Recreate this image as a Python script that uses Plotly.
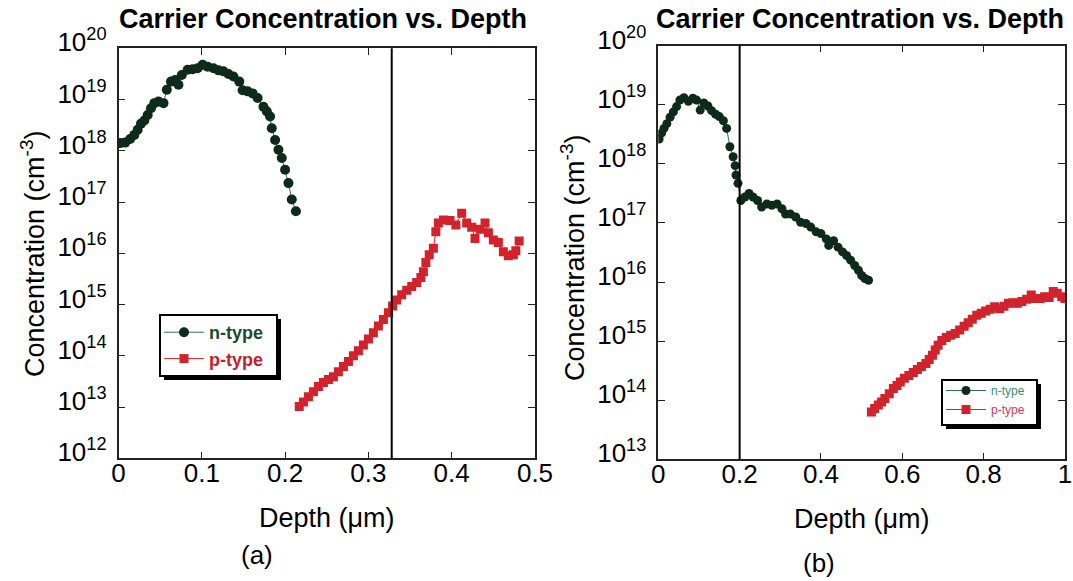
import plotly.graph_objects as go

# ---------------- data ----------------
# (a) n-type
a_n_depth = [0.002, 0.008, 0.014, 0.019, 0.023, 0.027, 0.031, 0.035, 0.039, 0.043, 0.048, 0.054,
             0.058, 0.063, 0.068, 0.072, 0.076, 0.083, 0.089, 0.095, 0.101, 0.107, 0.114, 0.120,
             0.126, 0.132, 0.138, 0.145, 0.149, 0.155, 0.161, 0.167, 0.174, 0.178, 0.182, 0.184,
             0.188, 0.192, 0.196, 0.200, 0.204, 0.208, 0.213]
a_n_log = [18.15, 18.16, 18.23, 18.31, 18.41, 18.53, 18.59, 18.70, 18.83, 18.93, 18.96, 18.93,
           19.19, 19.35, 19.38, 19.29, 19.48, 19.58, 19.59, 19.61, 19.68, 19.64, 19.61, 19.57,
           19.55, 19.50, 19.45, 19.35, 19.18, 19.16, 19.12, 19.03, 18.86, 18.77, 18.67, 18.44,
           18.21, 18.02, 17.86, 17.63, 17.37, 17.05, 16.82]
# (a) p-type
a_p_depth = [0.217, 0.222, 0.228, 0.234, 0.240, 0.246, 0.252, 0.258, 0.264, 0.270, 0.276, 0.282,
             0.288, 0.294, 0.300, 0.306, 0.312, 0.318, 0.324, 0.329, 0.334, 0.340, 0.346, 0.352,
             0.358, 0.363, 0.366, 0.369, 0.373, 0.378, 0.381, 0.384, 0.390, 0.398, 0.405, 0.412,
             0.418, 0.424, 0.428, 0.434, 0.440, 0.444, 0.450, 0.456, 0.462, 0.468, 0.474, 0.477,
             0.481]
a_p_log = [13.01, 13.10, 13.20, 13.30, 13.40, 13.48, 13.54, 13.59, 13.69, 13.79, 13.89, 14.00,
           14.10, 14.21, 14.33, 14.45, 14.58, 14.71, 14.84, 14.97, 15.09, 15.19, 15.28, 15.35,
           15.43, 15.53, 15.64, 15.82, 15.97, 16.10, 16.42, 16.59, 16.65, 16.64, 16.55, 16.78,
           16.59, 16.51, 16.29, 16.47, 16.59, 16.40, 16.26, 16.21, 16.03, 15.95, 15.97, 16.05,
           16.24]
# (b) n-type
b_n_depth = [0.002, 0.008, 0.014, 0.021, 0.029, 0.037, 0.045, 0.053, 0.063, 0.074, 0.085, 0.094,
             0.103, 0.112, 0.122, 0.131, 0.141, 0.150, 0.160, 0.168, 0.176, 0.184, 0.189, 0.191,
             0.196, 0.203, 0.213, 0.223, 0.233, 0.244, 0.254, 0.267, 0.279, 0.292, 0.304, 0.313,
             0.325, 0.338, 0.350, 0.363, 0.375, 0.388, 0.400, 0.413, 0.419, 0.431, 0.442, 0.453,
             0.463, 0.473, 0.483, 0.492, 0.500, 0.508, 0.517]
b_n_log = [18.42, 18.52, 18.60, 18.68, 18.79, 18.88, 18.97, 19.08, 19.12, 19.06, 19.11, 19.08,
           18.91, 19.03, 18.98, 18.90, 18.84, 18.80, 18.73, 18.60, 18.29, 18.12, 17.97, 17.81,
           17.67, 17.38, 17.44, 17.50, 17.44, 17.38, 17.27, 17.32, 17.30, 17.32, 17.24, 17.15,
           17.15, 17.10, 17.01, 16.99, 16.93, 16.85, 16.82, 16.73, 16.62, 16.70, 16.59, 16.51,
           16.45, 16.37, 16.28, 16.20, 16.11, 16.06, 16.03]
# (b) p-type
b_p_depth = [0.524, 0.532, 0.541, 0.549, 0.557, 0.568, 0.578, 0.587, 0.595, 0.605, 0.616, 0.627,
             0.637, 0.647, 0.658, 0.666, 0.674, 0.681, 0.688, 0.697, 0.708, 0.719, 0.730, 0.741,
             0.752, 0.762, 0.772, 0.783, 0.794, 0.805, 0.816, 0.827, 0.839, 0.850, 0.861, 0.872,
             0.883, 0.894, 0.906, 0.917, 0.927, 0.939, 0.950, 0.961, 0.971, 0.981, 0.992, 1.000]
b_p_log = [13.80, 13.86, 13.92, 13.97, 14.03, 14.11, 14.20, 14.25, 14.31, 14.37, 14.42, 14.47,
           14.52, 14.57, 14.62, 14.69, 14.76, 14.85, 14.93, 15.01, 15.06, 15.10, 15.13, 15.19,
           15.25, 15.31, 15.37, 15.44, 15.47, 15.51, 15.54, 15.58, 15.55, 15.59, 15.64, 15.65,
           15.64, 15.67, 15.71, 15.78, 15.72, 15.72, 15.75, 15.74, 15.84, 15.81, 15.75, 15.72]

a_n_conc = [10.0 ** v for v in a_n_log]
a_p_conc = [10.0 ** v for v in a_p_log]
b_n_conc = [10.0 ** v for v in b_n_log]
b_p_conc = [10.0 ** v for v in b_p_log]

junction_a = 0.328
junction_b = 0.2

a_xticks = [0, 0.1, 0.2, 0.3, 0.4, 0.5]
a_xticktext = ["0", "0.1", "0.2", "0.3", "0.4", "0.5"]
b_xticks = [0, 0.2, 0.4, 0.6, 0.8, 1.0]
b_xticktext = ["0", "0.2", "0.4", "0.6", "0.8", "1"]
a_exponents = list(range(12, 21))
b_exponents = list(range(13, 21))

title_text = "Carrier Concentration vs. Depth"
x_title = "Depth (μm)"
y_title = "Concentration (cm<sup>-3</sup>)"

# ---------------- styling ----------------
W, H = 1073, 581
FONT = "Liberation Sans, Arial, Helvetica, sans-serif"
N_MARK = "#0e2a1b"
N_LINE = "#2d6e6a"
P_MARK = "#d2232c"
P_LINE = "#d2232c"


def px(x):
    return x / W


def py(y):
    return 1 - y / H


fig = go.Figure()

fig.add_trace(go.Scatter(x=a_n_depth, y=a_n_conc, mode="lines+markers",
                         name="<b><span style='color:#1b4a30'>n-type</span></b>",
                         marker=dict(symbol="circle", size=10, color=N_MARK),
                         line=dict(color=N_LINE, width=1),
                         xaxis="x", yaxis="y", legend="legend"))
fig.add_trace(go.Scatter(x=a_p_depth, y=a_p_conc, mode="lines+markers",
                         name="<b><span style='color:#c81e2a'>p-type</span></b>",
                         marker=dict(symbol="square", size=9, color=P_MARK),
                         line=dict(color=P_LINE, width=1),
                         xaxis="x", yaxis="y", legend="legend"))
fig.add_trace(go.Scatter(x=b_n_depth, y=b_n_conc, mode="lines+markers",
                         name="<span style='color:#3d8c6c'>n-type</span>",
                         marker=dict(symbol="circle", size=9, color=N_MARK),
                         line=dict(color=N_LINE, width=1),
                         xaxis="x2", yaxis="y2", legend="legend2"))
fig.add_trace(go.Scatter(x=b_p_depth, y=b_p_conc, mode="lines+markers",
                         name="<span style='color:#d8355a'>p-type</span>",
                         marker=dict(symbol="square", size=9, color=P_MARK),
                         line=dict(color=P_LINE, width=1),
                         xaxis="x2", yaxis="y2", legend="legend2"))

axis_common = dict(showgrid=False, zeroline=False, showline=True, linecolor="#222222",
                   linewidth=1.5, mirror="ticks", ticks="inside", ticklen=7, tickwidth=1.2,
                   tickcolor="#222222", automargin=False,
                   tickfont=dict(family=FONT, size=26, color="black"))

ytext_a = ["10<sup>%d</sup>" % e for e in a_exponents]
ytext_b = ["10<sup>%d</sup>" % e for e in b_exponents]

fig.update_layout(
    template="none",
    width=W, height=H,
    margin=dict(l=0, r=0, t=0, b=0, pad=0, autoexpand=False),
    paper_bgcolor="white", plot_bgcolor="white",
    font=dict(family=FONT, color="black", size=18),
    xaxis=dict(domain=[px(118.5), px(535)], range=[0, 0.5], anchor="y",
               tickvals=a_xticks, ticktext=a_xticktext, ticklabelstandoff=-9, **axis_common),
    yaxis=dict(domain=[py(458.3), py(48.3)], type="log", range=[12, 20], anchor="x",
               tickvals=[10.0 ** e for e in a_exponents], ticktext=ytext_a,
               ticklabelstandoff=5, ticklabelshift=-6, **axis_common),
    xaxis2=dict(domain=[px(658.3), px(1065)], range=[0, 1], anchor="y2",
                tickvals=b_xticks, ticktext=b_xticktext, ticklabelstandoff=-9, **axis_common),
    yaxis2=dict(domain=[py(459.3), py(45.7)], type="log", range=[13, 20], anchor="x2",
                tickvals=[10.0 ** e for e in b_exponents], ticktext=ytext_b,
                ticklabelstandoff=5, ticklabelshift=-6, **axis_common),
    legend=dict(x=px(159), y=py(314), xanchor="left", yanchor="top",
                bgcolor="rgba(0,0,0,0)", borderwidth=0,
                font=dict(family=FONT, size=18), itemwidth=40, tracegroupgap=0),
    legend2=dict(x=px(941), y=py(376), xanchor="left", yanchor="top",
                 bgcolor="rgba(0,0,0,0)", borderwidth=0,
                 font=dict(family=FONT, size=12), itemwidth=40, tracegroupgap=0),
    showlegend=True,
)

# junction lines
fig.add_shape(type="line", xref="x", yref="y domain", x0=junction_a, x1=junction_a, y0=0, y1=1,
              line=dict(color="black", width=2))
fig.add_shape(type="line", xref="x2", yref="y2 domain", x0=junction_b, x1=junction_b, y0=0, y1=1,
              line=dict(color="black", width=2))

# legend frames with drop shadows
for (bx0, bx1, by0, by1, sh) in [(160, 277, 315, 376, 4), (942, 1037, 380, 425, 4)]:
    fig.add_shape(type="rect", xref="paper", yref="paper", layer="above",
                  x0=px(bx0 + sh), x1=px(bx1 + sh), y0=py(by1 + sh), y1=py(by0 + sh),
                  line=dict(width=0), fillcolor="black")
    fig.add_shape(type="rect", xref="paper", yref="paper", layer="above",
                  x0=px(bx0), x1=px(bx1), y0=py(by1), y1=py(by0),
                  line=dict(width=2, color="black"), fillcolor="white")

annots = [
    dict(text="<b>%s</b>" % title_text, x=px(323), y=py(19), font=dict(size=27)),
    dict(text="<b>%s</b>" % title_text, x=px(860), y=py(19), font=dict(size=27)),
    dict(text=x_title, x=px(327), y=py(518), font=dict(size=27)),
    dict(text=x_title, x=px(862), y=py(519), font=dict(size=27)),
    dict(text="(a)", x=px(257), y=py(555), font=dict(size=26)),
    dict(text="(b)", x=px(819), y=py(563), font=dict(size=26)),
    dict(text=y_title, x=px(33), y=py(254), font=dict(size=27), textangle=-90),
    dict(text=y_title, x=px(573), y=py(258), font=dict(size=27), textangle=-90),
]
for a in annots:
    a.update(xref="paper", yref="paper", showarrow=False, xanchor="center", yanchor="middle")
    a["font"].update(family=FONT, color="black")
    fig.add_annotation(**a)

# the page's default body margin would shift the figure by 8 px; remove it
fig.write_html("out.html", config={"displayModeBar": False},
               post_script="document.body.style.margin='0px';")
